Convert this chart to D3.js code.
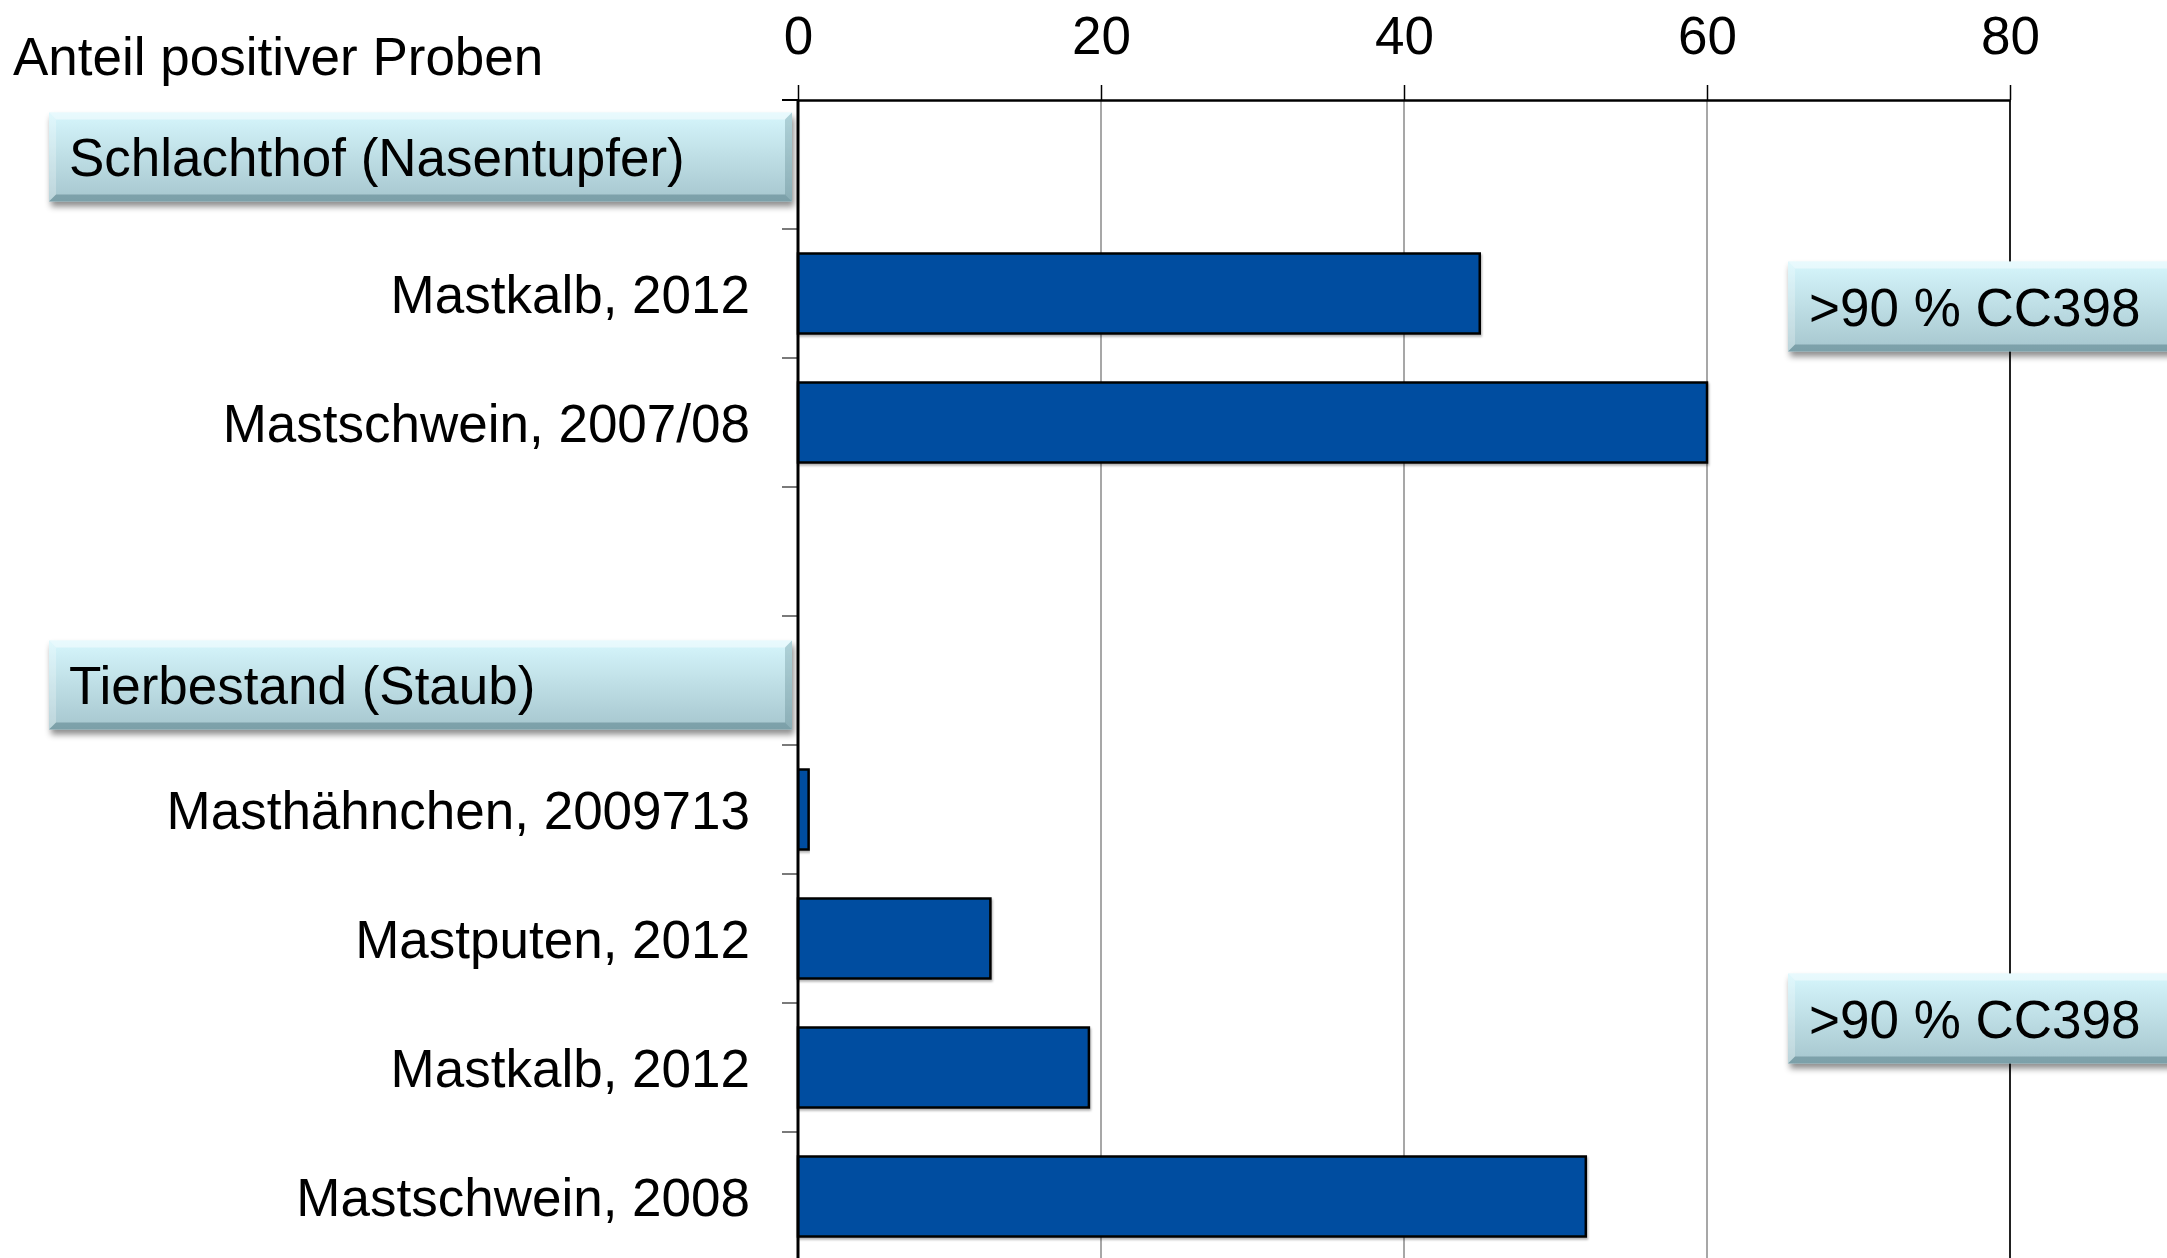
<!DOCTYPE html>
<html>
<head>
<meta charset="utf-8">
<script src="https://cdn.jsdelivr.net/npm/d3@7"></script>
<style>
	body { margin: 0; background: #fff; }
	svg { display: block; font-family: "Liberation Sans", Arial, sans-serif; }
</style>
</head>
<body>
<svg id="chart" width="2167" height="1258"></svg>
<script>
// rows of the chart, top to bottom (empty rows hold the group headers / gap)
var rowLabels = ["", "Mastkalb, 2012", "Mastschwein, 2007/08", "", "", "Masthähnchen, 2009713", "Mastputen, 2012", "Mastkalb, 2012", "Mastschwein, 2008"];
var rowValues = [null, 45, 60, null, null, 0.7, 12.7, 19.2, 52];
var groupLabels = ["Schlachthof (Nasentupfer)", "Tierbestand (Staub)"];
var groupRows = [0, 4];
var noteLabels = [">90 % CC398", ">90 % CC398"];
var xTicks = [0, 20, 40, 60, 80];
var axisTitle = "Anteil positiver Proben";

var svg = d3.select("#chart"),
	width = +svg.attr("width"),
	height = +svg.attr("height"),
	fontSize = 53;

var x = d3.scaleLinear().domain([0, 80]).range([798, 2010]);
var y = d3.scaleBand()
	.domain(d3.range(rowLabels.length))
	.range([100, 100 + 129 * rowLabels.length])
	.paddingInner(0.38)
	.paddingOuter(0.19);
var step = y.step();

var defs = svg.append("defs");

var grad = defs.append("linearGradient")
	.attr("id", "boxGrad")
	.attr("x1", 0).attr("y1", 0).attr("x2", 0).attr("y2", 1);
grad.append("stop").attr("offset", "0%").attr("stop-color", "#d6f6fc");
grad.append("stop").attr("offset", "100%").attr("stop-color", "#a6c6ce");

defs.append("filter").attr("id", "boxShadow")
	.attr("x", "-5%").attr("y", "-20%").attr("width", "115%").attr("height", "150%")
	.append("feDropShadow")
	.attr("dx", 2).attr("dy", 5).attr("stdDeviation", 3)
	.attr("flood-color", "#000").attr("flood-opacity", 0.45);

defs.append("filter").attr("id", "barShadow")
	.attr("x", "-5%").attr("y", "-10%").attr("width", "115%").attr("height", "130%")
	.append("feDropShadow")
	.attr("dx", 1).attr("dy", 2).attr("stdDeviation", 1)
	.attr("flood-color", "#000").attr("flood-opacity", 0.3);

// gridlines
svg.append("g")
	.attr("class", "grid")
	.selectAll("line")
	.data(xTicks.slice(1))
	.enter().append("line")
	.attr("x1", function(d) { return x(d); })
	.attr("x2", function(d) { return x(d); })
	.attr("y1", y.range()[0])
	.attr("y2", height)
	.attr("stroke", function(d) { return d === 80 ? "#222" : "#8a8a8a"; })
	.attr("stroke-width", function(d) { return d === 80 ? 2 : 1.5; });

// top axis
var xAxis = svg.append("g")
	.attr("transform", "translate(0," + y.range()[0] + ")")
	.call(d3.axisTop(x).tickValues(xTicks).tickSize(15).tickPadding(31).tickSizeOuter(0));
xAxis.select(".domain").attr("stroke", "#000").attr("stroke-width", 2.5);
xAxis.selectAll(".tick line").attr("stroke", "#000").attr("stroke-width", 1.5);
xAxis.selectAll(".tick text")
	.attr("fill", "#000")
	.style("font-size", fontSize + "px")
	.style("font-family", "Liberation Sans, Arial, sans-serif");

// row tick marks on the left
svg.append("g")
	.selectAll("line")
	.data(d3.range(rowLabels.length + 1))
	.enter().append("line")
	.attr("x1", x(0) - 16)
	.attr("x2", x(0))
	.attr("y1", function(i) { return y.range()[0] + i * step; })
	.attr("y2", function(i) { return y.range()[0] + i * step; })
	.attr("stroke", function(i) { return i === 0 ? "#000" : "#7a7a7a"; })
	.attr("stroke-width", 2);

// bars
var barData = rowValues.map(function(v, i) { return { row: i, value: v }; })
	.filter(function(d) { return d.value !== null; });

svg.append("g")
	.selectAll("rect")
	.data(barData)
	.enter().append("rect")
	.attr("x", x(0))
	.attr("y", function(d) { return y(d.row); })
	.attr("width", function(d) { return x(d.value) - x(0); })
	.attr("height", y.bandwidth())
	.attr("fill", "#044ea0")
	.attr("stroke", "#000")
	.attr("stroke-width", 2.5)
	.attr("filter", "url(#barShadow)");

// left axis line
svg.append("line")
	.attr("x1", x(0)).attr("x2", x(0))
	.attr("y1", y.range()[0]).attr("y2", height)
	.attr("stroke", "#000").attr("stroke-width", 3);

// category labels
svg.append("g")
	.selectAll("text")
	.data(rowLabels.map(function(t, i) { return { row: i, text: t }; }).filter(function(d) { return d.text; }))
	.enter().append("text")
	.attr("x", 750)
	.attr("y", function(d) { return y(d.row) + y.bandwidth() / 2; })
	.attr("dy", "0.36em")
	.attr("text-anchor", "end")
	.style("font-size", fontSize + "px")
	.text(function(d) { return d.text; });

// axis title
svg.append("text")
	.attr("x", 13)
	.attr("y", 75)
	.style("font-size", fontSize + "px")
	.text(axisTitle);

// bevelled label box
function bevelBox(g, bx, by, bw, bh, label, tx) {
	var b = 7;
	g.append("rect")
		.attr("x", bx).attr("y", by).attr("width", bw).attr("height", bh)
		.attr("fill", "url(#boxGrad)")
		.attr("filter", "url(#boxShadow)");
	var pts = function(a) { return a.map(function(p) { return p.join(","); }).join(" "); };
	g.append("polygon")
		.attr("points", pts([[bx, by], [bx + bw, by], [bx + bw - b, by + b], [bx + b, by + b]]))
		.attr("fill", "#fff").attr("fill-opacity", 0.45);
	g.append("polygon")
		.attr("points", pts([[bx, by], [bx + b, by + b], [bx + b, by + bh - b], [bx, by + bh]]))
		.attr("fill", "#fff").attr("fill-opacity", 0.25);
	g.append("polygon")
		.attr("points", pts([[bx + bw, by], [bx + bw, by + bh], [bx + bw - b, by + bh - b], [bx + bw - b, by + b]]))
		.attr("fill", "#3d6770").attr("fill-opacity", 0.25);
	g.append("polygon")
		.attr("points", pts([[bx, by + bh], [bx + b, by + bh - b], [bx + bw - b, by + bh - b], [bx + bw, by + bh]]))
		.attr("fill", "#3d6770").attr("fill-opacity", 0.4);
	g.append("text")
		.attr("x", tx)
		.attr("y", by + bh / 2)
		.attr("dy", "0.36em")
		.style("font-size", fontSize + "px")
		.text(label);
}

// group headers
var headerShift = [-12, 0];
groupLabels.forEach(function(label, i) {
	var r = groupRows[i];
	bevelBox(svg.append("g"), 49, y(r) + headerShift[i], 743, 89, label, 69);
});

// notes on the right
var noteY = [y(1) + 8, y(6) + 75];
noteLabels.forEach(function(label, i) {
	bevelBox(svg.append("g"), 1788, noteY[i], 390, 90, label, 1809);
});
</script>
</body>
</html>
